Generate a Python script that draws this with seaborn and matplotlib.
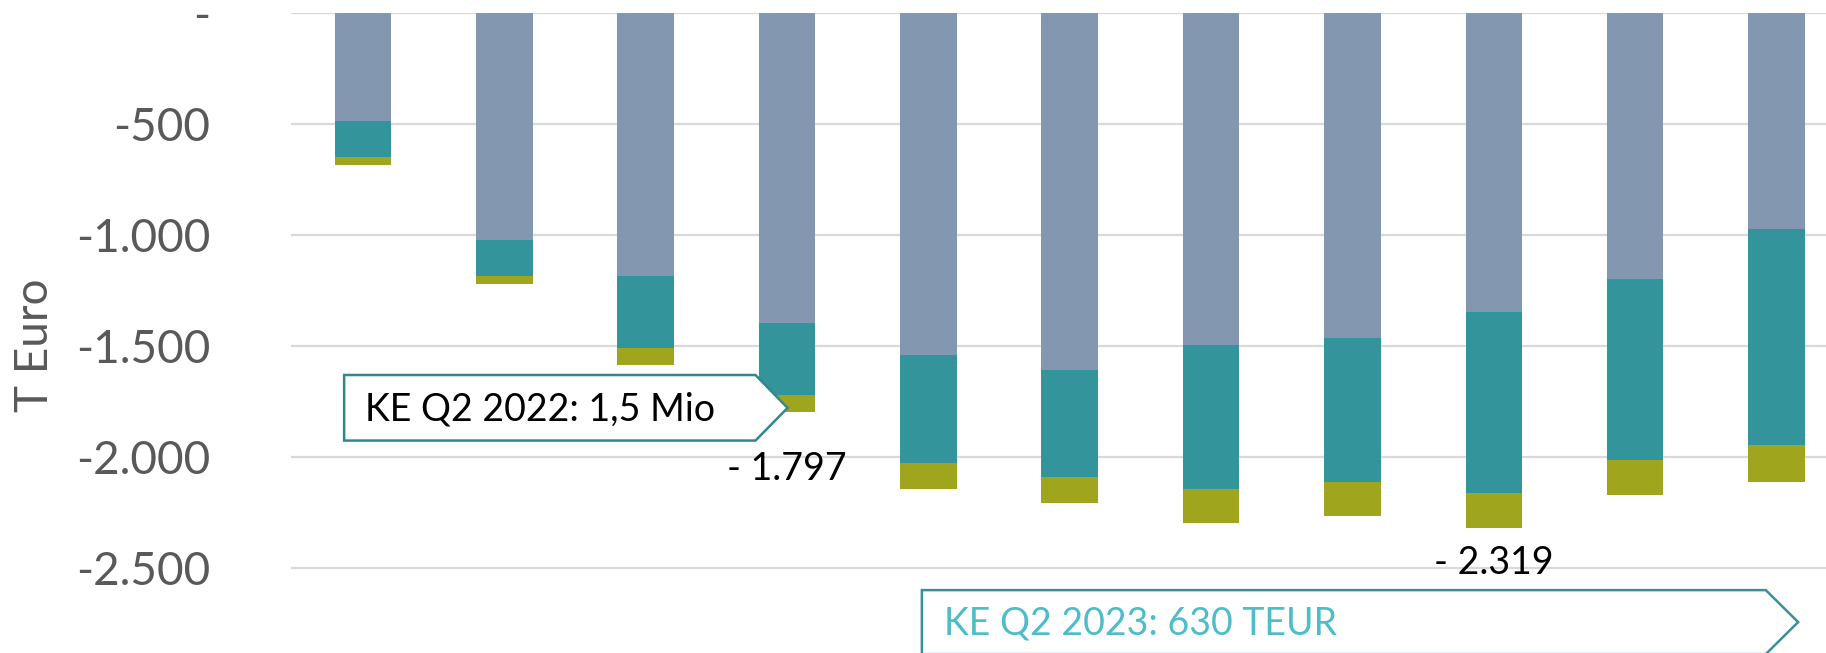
import numpy as np
import matplotlib
matplotlib.use("Agg")
import matplotlib.pyplot as plt
from matplotlib.patches import Polygon
from matplotlib.ticker import FuncFormatter
import seaborn as sns

# categories (no axis labels shown in the original)
periods = ["P1", "P2", "P3", "P4", "P5", "P6", "P7", "P8", "P9", "P10", "P11"]

# stacked segments in T Euro, top to bottom
seg_grey = [-486, -1022, -1183, -1398, -1542, -1609, -1497, -1464, -1348, -1200, -974]
seg_teal = [-162, -161, -324, -320, -483, -482, -645, -646, -811, -812, -971]
seg_olive = [-39, -38, -77, -79, -117, -117, -154, -156, -160, -160, -167]

y_ticks = [0, -500, -1000, -1500, -2000, -2500]
labelled_bars = [3, 8]

GREY = "#8497B0"
TEAL = "#34949C"
OLIVE = "#A0A51E"
TICK_COLOR = "#595959"

sns.set_theme(style="white")
plt.rcParams["font.family"] = ["Lato", "DejaVu Sans"]

fig = plt.figure(figsize=(18.26, 6.53), dpi=100)
ax = fig.add_axes([291 / 1826, 0, 1 - 291 / 1826, 640.2 / 653])

# cumulative levels: draw the deepest first, then overlay the shorter ones
lvl_grey = np.array(seg_grey)
lvl_teal = lvl_grey + np.array(seg_teal)
lvl_total = lvl_teal + np.array(seg_olive)

for vals, col in [(lvl_total, OLIVE), (lvl_teal, TEAL), (lvl_grey, GREY)]:
    sns.barplot(x=periods, y=vals, order=periods, color=col, saturation=1,
                width=0.4, errorbar=None, linewidth=0, ax=ax)

ax.set_xlim(-0.509, 10.35)
ax.set_ylim(-2881, 0)
ax.set_yticks(y_ticks)
ax.yaxis.set_major_formatter(FuncFormatter(
    lambda v, _: "-" if v == 0 else f"{v:,.0f}".replace(",", ".")))
ax.tick_params(axis="y", length=0, pad=58, labelsize=33, labelcolor=TICK_COLOR)
ax.set_xticks([])
ax.set_xlabel("")
ax.grid(axis="y", color="#D9D9D9", linewidth=1.6)
ax.set_axisbelow(True)
for s in ax.spines.values():
    s.set_visible(False)

ax.set_ylabel("T Euro", fontsize=33, color=TICK_COLOR, va="center")
ax.yaxis.set_label_coords(-0.1668, 0.48)

# totals below selected bars
label_y = {3: -2051, 8: -2478}
for i in labelled_bars:
    txt = "- " + f"{abs(lvl_total[i]):,}".replace(",", ".")
    ax.text(i, label_y[i], txt, ha="center", va="center", fontsize=27, color="black")

# callout arrows
box1 = Polygon([(-0.133, -1630), (2.777, -1630), (3.004, -1778),
                (2.777, -1925), (-0.133, -1925)], closed=True,
               facecolor="white", edgecolor="#31878E", linewidth=1.8, zorder=5)
ax.add_patch(box1)
ax.text(0.018, -1785, "KE Q2 2022: 1,5 Mio", ha="left", va="center",
        fontsize=27, color="black", zorder=6)

box2 = Polygon([(3.954, -2598), (9.924, -2598), (10.153, -2742),
                (9.924, -2886), (3.954, -2886)], closed=True,
               facecolor="white", edgecolor="#3A9098", linewidth=1.8, zorder=5,
               clip_on=False)
ax.add_patch(box2)
ax.text(4.107, -2746, "KE Q2 2023: 630 TEUR", ha="left", va="center",
        fontsize=27, color="#4DBDC8", zorder=6)

fig.savefig("out.png", dpi=100)
